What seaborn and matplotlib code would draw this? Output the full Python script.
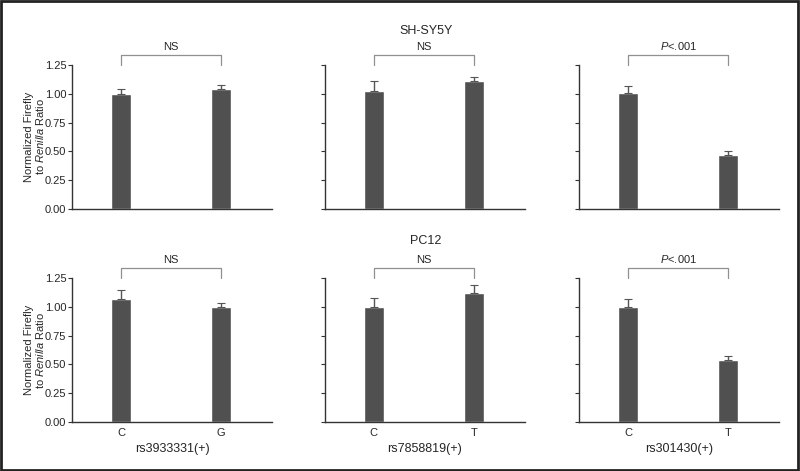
import pandas as pd
import seaborn as sns
import matplotlib.pyplot as plt
from matplotlib import font_manager

# values
snps = ['rs3933331(+)', 'rs7858819(+)', 'rs301430(+)']
alleles = [['C', 'G'], ['C', 'T'], ['C', 'T']]
cell_lines = ['SH-SY5Y', 'PC12']
ratio = {'SH-SY5Y': [[1.00, 1.04], [1.02, 1.11], [1.01, 0.47]],
         'PC12': [[1.07, 1.00], [1.00, 1.12], [1.00, 0.54]]}
sem = {'SH-SY5Y': [[0.04, 0.04], [0.09, 0.04], [0.06, 0.03]],
       'PC12': [[0.08, 0.03], [0.08, 0.07], [0.07, 0.03]]}
signif = ['NS', 'NS', '$\\it{P}$<.001']

rows = []
for line in cell_lines:
    for i, snp in enumerate(snps):
        for j, a in enumerate(alleles[i]):
            rows.append({'line': line, 'snp': snp, 'allele': a,
                         'ratio': ratio[line][i][j], 'sem': sem[line][i][j]})
df = pd.DataFrame(rows)

sns.set_style('white')
names = {f.name for f in font_manager.fontManager.ttflist}
fam = 'Liberation Sans Narrow' if 'Liberation Sans Narrow' in names else 'Liberation Sans'
plt.rcParams['font.family'] = [fam, 'DejaVu Sans']
plt.rcParams['mathtext.fontset'] = 'custom'
plt.rcParams['mathtext.it'] = fam + ':italic'
plt.rcParams['mathtext.rm'] = fam

fig = plt.figure(figsize=(8, 4.71), dpi=100)
lefts = [0.09, 0.406, 0.724]
bottoms = [0.5563, 0.104]
w, h = 0.25, 0.3057
bar_col = '#505050'
fs = 8

for r, line in enumerate(cell_lines):
    for c, snp in enumerate(snps):
        ax = fig.add_axes([lefts[c], bottoms[r], w, h])
        sub = df[(df.line == line) & (df.snp == snp)]
        sns.barplot(data=sub, x='allele', y='ratio', order=alleles[c],
                    color=bar_col, saturation=1, width=0.2, errorbar=None, ax=ax)
        ax.errorbar(range(len(sub)), sub['ratio'], yerr=[[0] * len(sub), sub['sem']],
                    fmt='none', ecolor='#555555', elinewidth=1, capsize=3, capthick=0.8)
        ax.set_xlim(-0.49, 1.51)
        ax.set_ylim(0, 1.25)
        ax.set_yticks([0, 0.25, 0.5, 0.75, 1.0, 1.25])
        for s in ['top', 'right']:
            ax.spines[s].set_visible(False)
        for s in ['left', 'bottom']:
            ax.spines[s].set_color('#333333')
            ax.spines[s].set_linewidth(1)
        ax.tick_params(axis='y', length=3, width=0.8, color='#333333', left=True,
                       labelsize=fs, pad=1)
        ax.tick_params(axis='x', length=0, labelsize=fs, pad=4)
        if c == 0:
            ax.set_yticklabels(['0.00', '0.25', '0.50', '0.75', '1.00', '1.25'])
            ax.set_ylabel('Normalized Firefly\nto $\\it{Renilla}$ Ratio', fontsize=fs,
                          labelpad=-1, linespacing=1.0)
        else:
            ax.set_yticklabels([])
            ax.set_ylabel('')
        if r == 1:
            ax.set_xlabel(snp, fontsize=fs + 1, labelpad=4)
        else:
            ax.set_xticklabels([])
            ax.set_xlabel('')
        # significance bracket
        ax.plot([0, 0, 1, 1], [1.25, 1.333, 1.333, 1.25], color='#909090', lw=0.9,
                clip_on=False)
        ax.text(0.5, 1.36, signif[c], ha='center', va='bottom', fontsize=fs)

fig.text(0.532, 0.935, 'SH-SY5Y', ha='center', va='center', fontsize=fs + 1)
fig.text(0.532, 0.488, 'PC12', ha='center', va='center', fontsize=fs + 1)

# dark frame round the figure
fig.patches.append(plt.Rectangle((0.001, 0.002), 0.997, 0.996, transform=fig.transFigure,
                                 fill=False, edgecolor='#222222', lw=2))

plt.savefig('out.png', dpi=100)
